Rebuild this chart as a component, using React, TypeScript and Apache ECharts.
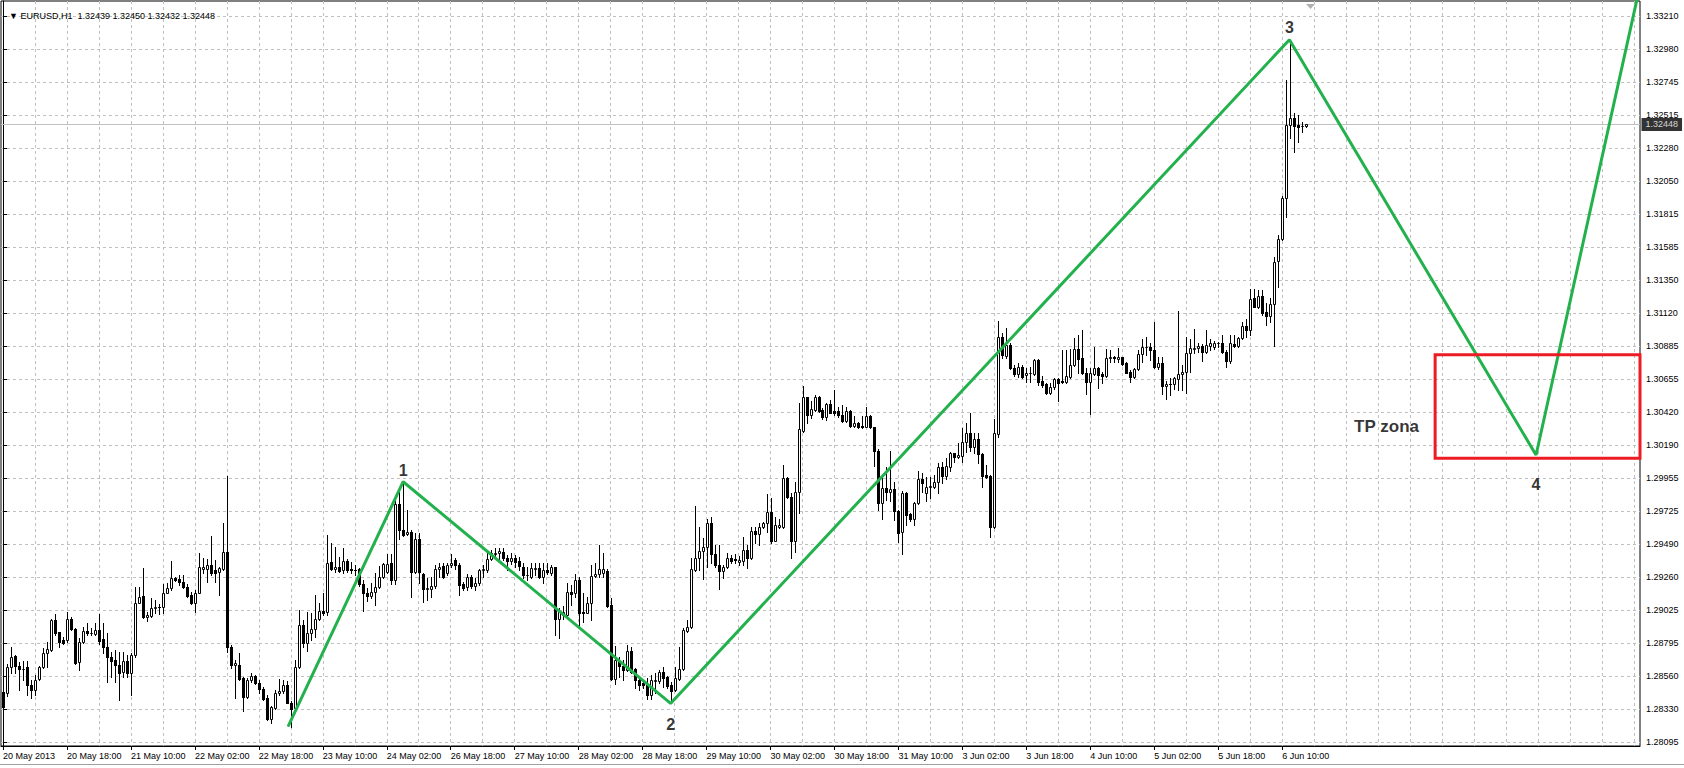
import React, { useEffect, useRef } from 'react';
import * as echarts from 'echarts';

const FONT = 'Liberation Sans';
const symbolName = 'EURUSD,H1';

const xTickLabels = [
  '20 May 2013', '20 May 18:00', '21 May 10:00', '22 May 02:00', '22 May 18:00', '23 May 10:00',
  '24 May 02:00', '26 May 18:00', '27 May 10:00', '28 May 02:00', '28 May 18:00', '29 May 10:00',
  '30 May 02:00', '30 May 18:00', '31 May 10:00', '3 Jun 02:00', '3 Jun 18:00', '4 Jun 10:00',
  '5 Jun 02:00', '5 Jun 18:00', '6 Jun 10:00',
];
const yTickLabels = [
  '1.33210', '1.32980', '1.32745', '1.32515', '1.32280', '1.32050', '1.31815', '1.31585',
  '1.31350', '1.31120', '1.30885', '1.30655', '1.30420', '1.30190', '1.29955', '1.29725',
  '1.29490', '1.29260', '1.29025', '1.28795', '1.28560', '1.28330', '1.28095',
];
const barsPerLabel = 16;
const barsPerGrid = 8;
const totalBars = 410;
const priceMin = 1.28069;
const priceMax = 1.33318;
const currentPrice = 1.32448;

// [open, high, low, close] — hourly candles 20 May .. 6 Jun 2013
const barsA = [
  [1.28452, 1.28487, 1.28335, 1.28346], [1.28445, 1.28647, 1.28422, 1.28628], [1.28628, 1.28769, 1.28581, 1.28699],
  [1.28703, 1.28710, 1.28581, 1.28633], [1.28633, 1.28663, 1.28464, 1.28609], [1.28609, 1.28668, 1.28534, 1.28612],
  [1.28628, 1.28668, 1.28429, 1.28497], [1.28499, 1.28534, 1.28405, 1.28464], [1.28464, 1.28570, 1.28429, 1.28534],
  [1.28539, 1.28633, 1.28534, 1.28628], [1.28628, 1.28757, 1.28616, 1.28722], [1.28722, 1.28804, 1.28628, 1.28750],
  [1.28746, 1.28962, 1.28741, 1.28957], [1.28957, 1.28997, 1.28851, 1.28868], [1.28872, 1.28875, 1.28769, 1.28804],
  [1.28816, 1.28840, 1.28788, 1.28797], [1.28816, 1.29016, 1.28804, 1.28962], [1.28962, 1.28980, 1.28887, 1.28891],
  [1.28891, 1.28898, 1.28647, 1.28656], [1.28661, 1.28828, 1.28605, 1.28802], [1.28804, 1.28910, 1.28797, 1.28879],
  [1.28879, 1.28934, 1.28851, 1.28863], [1.28863, 1.28898, 1.28851, 1.28865], [1.28858, 1.28934, 1.28851, 1.28887],
  [1.28887, 1.28997, 1.28788, 1.28811], [1.28821, 1.28934, 1.28727, 1.28769], [1.28769, 1.28863, 1.28523, 1.28694],
  [1.28694, 1.28734, 1.28558, 1.28671], [1.28675, 1.28746, 1.28523, 1.28638], [1.28642, 1.28734, 1.28393, 1.28586],
  [1.28591, 1.28734, 1.28558, 1.28666], [1.28666, 1.28710, 1.28558, 1.28586], [1.28581, 1.28727, 1.28429, 1.28708],
  [1.28708, 1.29192, 1.28699, 1.29079], [1.29079, 1.29192, 1.29074, 1.29121], [1.29126, 1.29321, 1.28969, 1.28976],
  [1.28976, 1.29016, 1.28952, 1.28990], [1.28985, 1.29110, 1.28980, 1.29039], [1.29039, 1.29098, 1.29004, 1.29051],
  [1.29051, 1.29070, 1.29000, 1.29047], [1.29047, 1.29211, 1.29004, 1.29149], [1.29149, 1.29220, 1.29145, 1.29180],
  [1.29180, 1.29373, 1.29168, 1.29250], [1.29253, 1.29262, 1.29234, 1.29239], [1.29243, 1.29274, 1.29204, 1.29222],
  [1.29225, 1.29274, 1.29180, 1.29187], [1.29187, 1.29211, 1.29117, 1.29126], [1.29135, 1.29157, 1.29070, 1.29079],
  [1.29079, 1.29168, 1.29016, 1.29149], [1.29149, 1.29427, 1.29145, 1.29328], [1.29318, 1.29391, 1.29286, 1.29333],
  [1.29318, 1.29384, 1.29227, 1.29347], [1.29344, 1.29549, 1.29274, 1.29290], [1.29309, 1.29380, 1.29227, 1.29290],
  [1.29297, 1.29333, 1.29133, 1.29321], [1.29316, 1.29638, 1.29309, 1.29434], [1.29434, 1.29971, 1.28734, 1.28769],
  [1.28769, 1.28781, 1.28616, 1.28640], [1.28638, 1.28675, 1.28405, 1.28652], [1.28638, 1.28727, 1.28534, 1.28544],
  [1.28546, 1.28553, 1.28318, 1.28412], [1.28412, 1.28546, 1.28405, 1.28534], [1.28534, 1.28586, 1.28523, 1.28563],
  [1.28563, 1.28570, 1.28506, 1.28511], [1.28516, 1.28534, 1.28440, 1.28473], [1.28473, 1.28483, 1.28393, 1.28403],
  [1.28410, 1.28429, 1.28253, 1.28260], [1.28262, 1.28351, 1.28229, 1.28342], [1.28335, 1.28464, 1.28328, 1.28440],
  [1.28440, 1.28539, 1.28429, 1.28459], [1.28459, 1.28534, 1.28440, 1.28497], [1.28497, 1.28530, 1.28370, 1.28375],
  [1.28375, 1.28389, 1.28206, 1.28332], [1.28335, 1.28675, 1.28328, 1.28628], [1.28624, 1.29027, 1.28619, 1.28922],
  [1.28922, 1.28957, 1.28769, 1.28793], [1.28793, 1.29016, 1.28741, 1.28863], [1.28863, 1.29004, 1.28816, 1.28891],
  [1.28891, 1.29133, 1.28840, 1.28962], [1.28962, 1.29074, 1.28957, 1.29020], [1.29020, 1.29149, 1.28992, 1.29009],
  [1.29013, 1.29556, 1.28992, 1.29361], [1.29363, 1.29497, 1.29309, 1.29316], [1.29314, 1.29469, 1.29297, 1.29328],
  [1.29328, 1.29398, 1.29295, 1.29304], [1.29309, 1.29462, 1.29286, 1.29375], [1.29375, 1.29384, 1.29297, 1.29309],
  [1.29314, 1.29368, 1.29286, 1.29311], [1.29311, 1.29344, 1.29274, 1.29309], [1.29314, 1.29321, 1.29199, 1.29208],
  [1.29211, 1.29239, 1.29023, 1.29149], [1.29149, 1.29180, 1.29093, 1.29126], [1.29126, 1.29215, 1.29110, 1.29152],
  [1.29152, 1.29286, 1.29063, 1.29192], [1.29192, 1.29337, 1.29180, 1.29257], [1.29257, 1.29356, 1.29250, 1.29351],
  [1.29297, 1.29420, 1.29286, 1.29351], [1.29356, 1.29420, 1.29211, 1.29239], [1.29239, 1.29826, 1.29211, 1.29774],
  [1.29774, 1.29861, 1.29530, 1.29591],
];
const barsB = [
  [1.29591, 1.29932, 1.29549, 1.29556], [1.29563, 1.29732, 1.29556, 1.29579], [1.29579, 1.29591, 1.29122, 1.29298],
  [1.29298, 1.29568, 1.29286, 1.29525], [1.29525, 1.29568, 1.29216, 1.29298], [1.29281, 1.29286, 1.29086, 1.29173],
  [1.29173, 1.29251, 1.29098, 1.29185], [1.29173, 1.29258, 1.29122, 1.29197], [1.29197, 1.29345, 1.29180, 1.29314],
  [1.29314, 1.29356, 1.29262, 1.29333], [1.29338, 1.29356, 1.29251, 1.29262], [1.29286, 1.29361, 1.29274, 1.29345],
  [1.29342, 1.29422, 1.29333, 1.29361], [1.29380, 1.29392, 1.29314, 1.29345], [1.29342, 1.29356, 1.29133, 1.29204],
  [1.29211, 1.29227, 1.29169, 1.29180], [1.29187, 1.29281, 1.29169, 1.29262], [1.29262, 1.29274, 1.29180, 1.29197],
  [1.29197, 1.29251, 1.29169, 1.29220], [1.29216, 1.29314, 1.29204, 1.29309], [1.29309, 1.29345, 1.29262, 1.29314],
  [1.29309, 1.29439, 1.29298, 1.29385], [1.29385, 1.29450, 1.29380, 1.29432], [1.29422, 1.29462, 1.29392, 1.29432],
  [1.29432, 1.29462, 1.29380, 1.29443], [1.29439, 1.29462, 1.29380, 1.29392], [1.29396, 1.29413, 1.29309, 1.29375],
  [1.29375, 1.29427, 1.29352, 1.29394], [1.29392, 1.29415, 1.29333, 1.29368], [1.29375, 1.29399, 1.29309, 1.29338],
  [1.29333, 1.29356, 1.29251, 1.29274], [1.29274, 1.29328, 1.29239, 1.29276], [1.29262, 1.29356, 1.29251, 1.29321],
  [1.29314, 1.29356, 1.29274, 1.29321], [1.29321, 1.29356, 1.29251, 1.29262], [1.29262, 1.29361, 1.29216, 1.29309],
  [1.29309, 1.29356, 1.29281, 1.29298], [1.29291, 1.29345, 1.29274, 1.29328], [1.29328, 1.29333, 1.28852, 1.28962],
  [1.28962, 1.29039, 1.28828, 1.29016], [1.28992, 1.29056, 1.28962, 1.29016], [1.28992, 1.29216, 1.28981, 1.29157],
  [1.29157, 1.29204, 1.29063, 1.29140], [1.29145, 1.29281, 1.29122, 1.29239], [1.29239, 1.29262, 1.28910, 1.29004],
  [1.29016, 1.29145, 1.28946, 1.29004], [1.29009, 1.29122, 1.29004, 1.29079], [1.29079, 1.29345, 1.28957, 1.29267],
  [1.29267, 1.29356, 1.29262, 1.29281], [1.29281, 1.29486, 1.29262, 1.29314], [1.29291, 1.29427, 1.29262, 1.29314],
  [1.29305, 1.29314, 1.29051, 1.29056], [1.29063, 1.29110, 1.28535, 1.28539], [1.28539, 1.28774, 1.28507, 1.28676],
  [1.28664, 1.28699, 1.28558, 1.28633], [1.28633, 1.28676, 1.28535, 1.28605], [1.28605, 1.28781, 1.28600, 1.28741],
  [1.28741, 1.28765, 1.28582, 1.28593], [1.28610, 1.28617, 1.28476, 1.28535], [1.28535, 1.28546, 1.28464, 1.28500],
  [1.28516, 1.28535, 1.28476, 1.28500], [1.28500, 1.28546, 1.28399, 1.28429], [1.28429, 1.28570, 1.28399, 1.28535],
  [1.28530, 1.28582, 1.28441, 1.28535], [1.28530, 1.28605, 1.28511, 1.28593], [1.28593, 1.28629, 1.28483, 1.28546],
  [1.28554, 1.28563, 1.28476, 1.28492], [1.28500, 1.28523, 1.28370, 1.28453], [1.28464, 1.28629, 1.28457, 1.28546],
  [1.28539, 1.28765, 1.28535, 1.28610], [1.28610, 1.28899, 1.28605, 1.28887], [1.28882, 1.28957, 1.28875, 1.28906],
  [1.28906, 1.29392, 1.28899, 1.29314], [1.29309, 1.29760, 1.29305, 1.29392], [1.29392, 1.29610, 1.29309, 1.29446],
  [1.29446, 1.29533, 1.29244, 1.29469], [1.29469, 1.29666, 1.29333, 1.29643], [1.29643, 1.29680, 1.29356, 1.29422],
  [1.29422, 1.29486, 1.29333, 1.29345], [1.29345, 1.29486, 1.29173, 1.29305], [1.29305, 1.29345, 1.29251, 1.29328],
  [1.29328, 1.29427, 1.29321, 1.29392], [1.29392, 1.29415, 1.29356, 1.29375], [1.29385, 1.29422, 1.29356, 1.29383],
  [1.29368, 1.29408, 1.29345, 1.29380], [1.29375, 1.29544, 1.29345, 1.29450], [1.29450, 1.29486, 1.29321, 1.29392],
  [1.29392, 1.29615, 1.29385, 1.29584], [1.29584, 1.29615, 1.29497, 1.29563], [1.29563, 1.29638, 1.29486, 1.29615],
  [1.29615, 1.29650, 1.29603, 1.29643], [1.29643, 1.29845, 1.29579, 1.29720], [1.29720, 1.29814, 1.29497, 1.29516],
  [1.29516, 1.29685, 1.29516, 1.29626], [1.29610, 1.29666, 1.29603, 1.29626], [1.29610, 1.30049, 1.29603, 1.29955],
  [1.29955, 1.29967, 1.29814, 1.29821], [1.29821, 1.29849, 1.29396, 1.29516], [1.29516, 1.29932, 1.29439, 1.29861],
  [1.29861, 1.30483, 1.29709, 1.30300],
];
const barsC = [
  [1.30291, 1.30605, 1.30284, 1.30525], [1.30525, 1.30530, 1.30342, 1.30401], [1.30401, 1.30502, 1.30378, 1.30441],
  [1.30436, 1.30542, 1.30432, 1.30525], [1.30530, 1.30535, 1.30425, 1.30432], [1.30436, 1.30448, 1.30371, 1.30389],
  [1.30389, 1.30488, 1.30366, 1.30479], [1.30479, 1.30507, 1.30413, 1.30418], [1.30429, 1.30577, 1.30401, 1.30413],
  [1.30432, 1.30455, 1.30385, 1.30401], [1.30401, 1.30471, 1.30354, 1.30361], [1.30361, 1.30460, 1.30354, 1.30432],
  [1.30432, 1.30436, 1.30319, 1.30326], [1.30326, 1.30394, 1.30319, 1.30342], [1.30342, 1.30354, 1.30307, 1.30314],
  [1.30326, 1.30394, 1.30307, 1.30314], [1.30319, 1.30460, 1.30314, 1.30394], [1.30394, 1.30398, 1.30307, 1.30314],
  [1.30314, 1.30319, 1.30042, 1.30150], [1.30150, 1.30159, 1.29732, 1.29784], [1.29784, 1.29955, 1.29666, 1.29885],
  [1.29885, 1.30037, 1.29802, 1.29861], [1.29861, 1.30150, 1.29798, 1.29880], [1.29877, 1.29931, 1.29661, 1.29727],
  [1.29727, 1.29732, 1.29509, 1.29572], [1.29579, 1.29868, 1.29422, 1.29849], [1.29849, 1.29861, 1.29626, 1.29697],
  [1.29704, 1.29713, 1.29657, 1.29666], [1.29666, 1.29791, 1.29626, 1.29779], [1.29779, 1.30009, 1.29774, 1.29948],
  [1.29948, 1.29990, 1.29861, 1.29924], [1.29849, 1.29967, 1.29798, 1.29896], [1.29896, 1.29967, 1.29814, 1.29901],
  [1.29896, 1.29978, 1.29884, 1.29931], [1.29931, 1.30065, 1.29849, 1.30032], [1.30032, 1.30072, 1.29920, 1.29971],
  [1.29971, 1.30096, 1.29948, 1.30042], [1.30037, 1.30143, 1.30009, 1.30131], [1.30131, 1.30136, 1.30072, 1.30108],
  [1.30108, 1.30202, 1.30096, 1.30119], [1.30112, 1.30307, 1.30072, 1.30213], [1.30213, 1.30347, 1.30143, 1.30277],
  [1.30277, 1.30413, 1.30150, 1.30178], [1.30178, 1.30272, 1.30131, 1.30230], [1.30230, 1.30277, 1.30065, 1.30126],
  [1.30126, 1.30131, 1.29896, 1.29971], [1.29978, 1.30049, 1.29955, 1.29962], [1.29971, 1.29978, 1.29540, 1.29610],
  [1.29610, 1.30371, 1.29603, 1.30272], [1.30267, 1.31066, 1.30244, 1.30948], [1.30948, 1.30976, 1.30800, 1.30824],
  [1.30817, 1.31012, 1.30800, 1.30894], [1.30894, 1.30911, 1.30723, 1.30730], [1.30735, 1.30753, 1.30676, 1.30690],
  [1.30690, 1.30765, 1.30666, 1.30742], [1.30737, 1.30753, 1.30659, 1.30671], [1.30683, 1.30730, 1.30636, 1.30695],
  [1.30695, 1.30737, 1.30636, 1.30697], [1.30690, 1.30793, 1.30683, 1.30788], [1.30788, 1.30793, 1.30612, 1.30636],
  [1.30641, 1.30676, 1.30601, 1.30613], [1.30620, 1.30625, 1.30550, 1.30559], [1.30559, 1.30629, 1.30550, 1.30597],
  [1.30597, 1.30660, 1.30583, 1.30653], [1.30653, 1.30660, 1.30503, 1.30629], [1.30639, 1.30860, 1.30629, 1.30631],
  [1.30637, 1.30860, 1.30629, 1.30676], [1.30672, 1.30864, 1.30660, 1.30754], [1.30754, 1.30942, 1.30747, 1.30864],
  [1.30864, 1.30965, 1.30695, 1.30794], [1.30801, 1.31000, 1.30691, 1.30695], [1.30695, 1.30730, 1.30550, 1.30637],
  [1.30637, 1.30730, 1.30409, 1.30695], [1.30691, 1.30878, 1.30683, 1.30730], [1.30730, 1.30742, 1.30590, 1.30683],
  [1.30690, 1.30707, 1.30625, 1.30676], [1.30676, 1.30864, 1.30672, 1.30801], [1.30801, 1.30860, 1.30777, 1.30808],
  [1.30808, 1.30817, 1.30777, 1.30806], [1.30794, 1.30871, 1.30777, 1.30808], [1.30808, 1.30808, 1.30754, 1.30761],
  [1.30766, 1.30777, 1.30695, 1.30700], [1.30707, 1.30719, 1.30637, 1.30672], [1.30672, 1.30730, 1.30660, 1.30723],
  [1.30723, 1.30860, 1.30719, 1.30831], [1.30831, 1.30935, 1.30777, 1.30883], [1.30878, 1.30949, 1.30824, 1.30883],
  [1.30883, 1.30906, 1.30789, 1.30860], [1.30860, 1.31059, 1.30730, 1.30737], [1.30737, 1.30808, 1.30723, 1.30770],
  [1.30770, 1.30808, 1.30550, 1.30606], [1.30606, 1.30644, 1.30512, 1.30620], [1.30620, 1.30660, 1.30543, 1.30618],
  [1.30620, 1.30672, 1.30583, 1.30660], [1.30653, 1.31137, 1.30578, 1.30691], [1.30691, 1.30754, 1.30578, 1.30707],
  [1.30707, 1.30949, 1.30559, 1.30836], [1.30836, 1.30935, 1.30707, 1.30871], [1.30869, 1.31005, 1.30836, 1.30876],
  [1.30876, 1.30911, 1.30848, 1.30888], [1.30888, 1.30902, 1.30784, 1.30848], [1.30848, 1.31000, 1.30836, 1.30895],
  [1.30888, 1.30935, 1.30860, 1.30907], [1.30878, 1.30925, 1.30864, 1.30907], [1.30907, 1.30918, 1.30883, 1.30909],
  [1.30907, 1.30965, 1.30836, 1.30848], [1.30848, 1.30860, 1.30737, 1.30784], [1.30784, 1.30965, 1.30766, 1.30907],
  [1.30899, 1.30965, 1.30883, 1.30890], [1.30890, 1.30949, 1.30883, 1.30942], [1.30942, 1.31059, 1.30935, 1.31029],
  [1.31029, 1.31076, 1.30949, 1.31000], [1.31000, 1.31287, 1.30965, 1.31217], [1.31223, 1.31287, 1.31160, 1.31165],
  [1.31165, 1.31282, 1.31153, 1.31240], [1.31240, 1.31282, 1.31106, 1.31123], [1.31130, 1.31188, 1.31036, 1.31099],
  [1.31099, 1.31223, 1.31059, 1.31184], [1.31184, 1.31517, 1.30885, 1.31482], [1.31489, 1.31670, 1.31306, 1.31639],
  [1.31639, 1.31944, 1.31634, 1.31928], [1.31928, 1.32761, 1.31799, 1.32444], [1.32444, 1.33045, 1.32350, 1.32491],
  [1.32491, 1.32527, 1.32257, 1.32437], [1.32444, 1.32515, 1.32327, 1.32433], [1.32437, 1.32468, 1.32398, 1.32439],
  [1.32439, 1.32450, 1.32432, 1.32448],
];

// zigzag wave vertices [bar index, price]
const zigzag = [
  [71.3, 1.28205], [100.1, 1.29931], [167, 1.28369], [321.8, 1.33045], [383.5, 1.30119], [409.5, 1.33426],
];
const waveLabels = ['1', '2', '3', '4'];
const tpZone = [358.25, 1.30825, 409.5, 1.30096];
const tpText = 'TP zona';
const tpTextAt = [346.1, 1.30321];

export default function App() {
  const ref = useRef<HTMLDivElement>(null);
  useEffect(() => {
    const chart = echarts.init(ref.current!, null, { renderer: 'svg' });
    const bars = [...barsA, ...barsB, ...barsC];
    const candleData = bars.map((b, i) => [i, b[0], b[1], b[2], b[3]]);
    const last = bars[bars.length - 1];
    const labelTicks = xTickLabels.map((_, k) => k * barsPerLabel);
    const gridTicks: number[] = [];
    for (let v = 0; v < totalBars; v += barsPerGrid) gridTicks.push(v);
    const yTickValues = yTickLabels.map(Number);
    const xMin = -0.5;
    const xMax = totalBars - 0.5;

    const labelSides = ['top', 'bottom', 'top', 'bottom'];
    const labelDist = [3, 13, 4, 21];
    const waveLabelData = waveLabels.map((t, k) => ({
      value: zigzag[k + 1],
      label: { show: true, formatter: t, position: labelSides[k], distance: labelDist[k] },
    }));

    const option: any = {
      animation: false,
      backgroundColor: '#ffffff',
      title: {
        text: `\u25BC ${symbolName}  ${last.map((v) => v.toFixed(5)).join(' ')}`,
        left: 4,
        top: 6,
        textStyle: { fontSize: 9, fontWeight: 'normal', color: '#000', fontFamily: FONT },
      },
      grid: {
        left: 0, top: 1, width: 1640, height: 745,
        show: true, borderColor: '#000', borderWidth: 1, backgroundColor: '#fff',
      },
      xAxis: [
        {
          type: 'value', min: xMin, max: xMax,
          axisLine: { show: false },
          axisTick: { show: false, customValues: gridTicks },
          axisLabel: { show: false },
          splitLine: { show: true, lineStyle: { color: '#c0c0c0', type: [3, 3], width: 1 } },
        },
        {
          type: 'value', min: xMin, max: xMax, position: 'bottom',
          axisLine: { show: true, lineStyle: { color: '#000', width: 1 } },
          axisTick: { show: true, customValues: labelTicks, length: 4, lineStyle: { color: '#000' } },
          axisLabel: {
            customValues: labelTicks,
            formatter: (v: number) => xTickLabels[Math.round(v / barsPerLabel)] ?? '',
            align: 'left', margin: 5, fontSize: 9, color: '#000', fontFamily: FONT,
          },
          splitLine: { show: false },
        },
      ],
      yAxis: {
        type: 'value', position: 'right', min: priceMin, max: priceMax,
        axisLine: { show: true, lineStyle: { color: '#000' } },
        axisTick: { show: true, customValues: yTickValues, length: 4, lineStyle: { color: '#000' } },
        axisLabel: {
          customValues: yTickValues,
          formatter: (v: number) => v.toFixed(5),
          margin: 6, fontSize: 9, color: '#000', fontFamily: FONT,
        },
        splitLine: { show: true, lineStyle: { color: '#c0c0c0', type: [3, 3], width: 1 } },
      },
      graphic: [
        { type: 'line', shape: { x1: 0, y1: 764.5, x2: 1684, y2: 764.5 }, style: { stroke: '#a0a0a0', lineWidth: 1 } },
        { type: 'polygon', shape: { points: [[1306, 4], [1315, 4], [1310.5, 9]] }, style: { fill: '#b0b0b0' } },
      ],
      series: [
        {
          type: 'line', data: [[xMin, currentPrice], [xMax, currentPrice]], clip: true, silent: true, z: 1,
          showSymbol: false, symbol: 'none',
          lineStyle: { color: '#c0c0c0', type: 'solid', width: 1 },
        },
        {
          type: 'custom', data: candleData, clip: false, z: 3,
          encode: { x: 0, y: [1, 2, 3, 4] },
          renderItem: (_p: any, api: any) => {
            const i = api.value(0);
            const o = api.value(1), h = api.value(2), l = api.value(3), c = api.value(4);
            const pO = api.coord([i, o]);
            const yC = api.coord([i, c])[1];
            const yH = Math.round(api.coord([i, h])[1]);
            const yL = Math.round(api.coord([i, l])[1]);
            const cx = Math.round(pO[0]);
            const top = Math.round(Math.min(pO[1], yC));
            const bot = Math.round(Math.max(pO[1], yC));
            const children: any[] = [
              { type: 'rect', shape: { x: cx, y: yH, width: 1, height: Math.max(yL - yH + 1, 1) }, style: { fill: '#000' } },
            ];
            if (c >= o) {
              children.push({
                type: 'rect', shape: { x: cx - 0.5, y: top + 0.5, width: 2, height: Math.max(bot - top, 0) },
                style: { fill: '#fff', stroke: '#000', lineWidth: 1 },
              });
            } else {
              children.push({
                type: 'rect', shape: { x: cx - 1, y: top, width: 3, height: Math.max(bot - top + 1, 1) },
                style: { fill: '#000' },
              });
            }
            return { type: 'group', children };
          },
        },
        {
          type: 'line', data: zigzag, showSymbol: false, symbol: 'none', clip: true, z: 5,
          lineStyle: { color: '#22B14C', width: 3 },
        },
        {
          type: 'custom', data: [tpZone], clip: false, z: 6,
          encode: { x: [0, 2], y: [1, 3] },
          renderItem: (_p: any, api: any) => {
            const a = api.coord([api.value(0), api.value(1)]);
            const b = api.coord([api.value(2), api.value(3)]);
            return {
              type: 'rect',
              shape: { x: Math.min(a[0], b[0]), y: Math.min(a[1], b[1]), width: Math.abs(b[0] - a[0]), height: Math.abs(b[1] - a[1]) },
              style: { fill: 'none', stroke: '#ED1C24', lineWidth: 3 },
            };
          },
        },
        {
          type: 'scatter', data: waveLabelData, symbolSize: 1, clip: false, z: 7,
          itemStyle: { color: 'rgba(0,0,0,0)' },
          label: { show: true, fontSize: 16, fontWeight: 'bold', color: '#000', fontFamily: FONT },
        },
        {
          type: 'scatter', data: [{ value: tpTextAt }], symbolSize: 1, clip: false, z: 7,
          itemStyle: { color: 'rgba(0,0,0,0)' },
          label: { show: true, position: 'inside', formatter: tpText, fontSize: 17, fontWeight: 'bold', color: '#000', fontFamily: FONT },
        },
        {
          type: 'scatter', data: [[xMax, currentPrice]], symbolSize: 1, clip: false, z: 8,
          itemStyle: { color: 'rgba(0,0,0,0)' },
          label: {
            show: true, position: 'right', distance: 1,
            formatter: currentPrice.toFixed(5),
            backgroundColor: '#000', color: '#fff', fontSize: 9, fontFamily: FONT,
            padding: [2, 4, 2, 4],
          },
        },
      ],
    };
    chart.setOption(option);
    return () => chart.dispose();
  }, []);
  return (
    <div
      ref={ref}
      style={{ position: 'fixed', left: 0, top: 0, width: 1684, height: 768, background: '#fff' }}
    />
  );
}
